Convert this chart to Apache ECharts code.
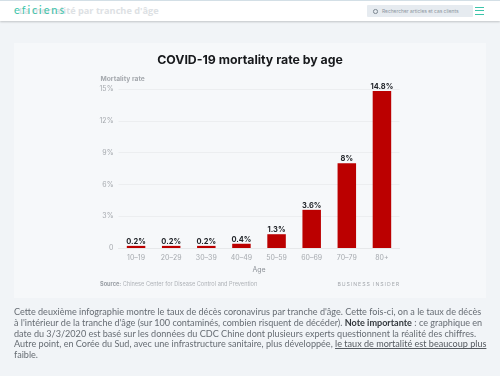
<!DOCTYPE html>
<html>
<head>
<meta charset="utf-8">
<script src="https://cdn.jsdelivr.net/npm/echarts@6/dist/echarts.min.js"></script>
<style>
  html, body { margin: 0; padding: 0; width: 500px; height: 376px; overflow: hidden; background: #f1f4f7; }
  #topbar { position: absolute; left: 0; top: 0; width: 500px; height: 21px; background: #fff; border-top: 1px solid #d3dfe6; box-sizing: border-box; box-shadow: 0 1px 2px rgba(0,0,0,.2); }
  #pagetitle { position: absolute; left: 19px; top: 3px; font: bold 9.2px "Open Sans", sans-serif; color: #dde1e4; white-space: nowrap; }
  #logo { position: absolute; left: 14px; top: 2px; font: 11px "Lato", sans-serif; letter-spacing: 1.9px; color: #3cc4aa; white-space: nowrap; }
  #search { position: absolute; left: 367px; top: 4px; width: 106px; height: 12px; background: #e6ebf0; border-radius: 1px; font: 4.9px/12px "Inter", sans-serif; color: #8d96a0; text-indent: 15px; white-space: nowrap; }
  #search i { position: absolute; left: 6px; top: 4px; width: 2.5px; height: 2.5px; border: 1px solid #7d8791; border-radius: 50%; }
  #burger { position: absolute; left: 475px; top: 6px; width: 9px; height: 6px; border-top: 1px solid #3cc4aa; border-bottom: 1px solid #3cc4aa; }
  #burger:after { content: ""; position: absolute; left: 0; top: 2px; width: 9px; height: 1px; background: #3cc4aa; }
  #card { position: absolute; left: 14px; top: 43px; width: 472px; height: 255px; background: #f6f8fa; }
  #chart { position: absolute; left: 0; top: 0; width: 500px; height: 376px; }
  #brand { position: absolute; right: 100px; top: 281px; font: 5.2px/6px "Inter", sans-serif; letter-spacing: 0.95px; color: #a5a9ae; white-space: nowrap; }
  #note { position: absolute; left: 14px; top: 307px; width: 472px; font: 9.08px/10.75px "Lato", sans-serif; color: #666c73; }
  #note b { color: #33383d; }
  #note u { text-underline-offset: 1px; color: #555a60; }
  #note div { white-space: nowrap; }
</style>
</head>
<body>
<div id="card"></div>
<div id="topbar">
  <div id="pagetitle">La mortalité par tranche d'âge</div>
  <div id="logo">eficiens</div>
  <div id="search"><i></i>Rechercher articles et cas clients</div>
  <div id="burger"></div>
</div>
<div id="chart"></div>
<div id="brand">BUSINESS INSIDER</div>
<div id="note">
  <div>Cette deuxième infographie montre le taux de décès coronavirus par tranche d'âge. Cette fois-ci, on a le taux de décès</div>
  <div>à l'intérieur de la tranche d'âge (sur 100 contaminés, combien risquent de décéder). <b>Note importante</b> : ce graphique en</div>
  <div>date du 3/3/2020 est basé sur les données du CDC Chine dont plusieurs experts questionnent la réalité des chiffres.</div>
  <div>Autre point, en Corée du Sud, avec une infrastructure sanitaire, plus développée, <u>le taux de mortalité est beaucoup plus</u></div>
  <div>faible.</div>
</div>
<script>
const ageGroups = ['10–19', '20–29', '30–39', '40–49', '50–59', '60–69', '70–79', '80+']
const mortality = [0.2, 0.2, 0.2, 0.4, 1.3, 3.6, 8, 14.8]

const myChart = echarts.init(document.getElementById('chart'))
myChart.setOption({
  animation: false,
  textStyle: { fontFamily: 'Inter' },
  title: {
    text: 'COVID-19 mortality rate by age',
    left: 'center',
    top: 49,
    textStyle: { fontFamily: 'Inter', fontSize: 12.3, fontWeight: 'bold', color: '#17191c' }
  },
  grid: { left: 118.5, right: 100.5, top: 89, bottom: 128 },
  xAxis: {
    type: 'category',
    data: ageGroups,
    name: 'Age',
    nameLocation: 'middle',
    nameGap: 18,
    nameTextStyle: { fontSize: 7, color: '#8d9298' },
    axisLine: { lineStyle: { color: '#e6e8ea', width: 1 } },
    axisTick: { show: false },
    axisLabel: { fontSize: 7, color: '#a5a9ae', margin: 6 }
  },
  yAxis: {
    type: 'value',
    min: 0,
    max: 15,
    interval: 3,
    name: 'Mortality rate',
    nameLocation: 'end',
    nameGap: 7,
    nameTextStyle: { fontSize: 6.7, fontWeight: 'bold', color: '#a5a9ae', align: 'left', padding: [0, 0, 0, -18] },
    axisLabel: {
      fontSize: 7,
      color: '#a5a9ae',
      margin: 5,
      formatter: function (v) { return v === 0 ? '0' : v + '%' }
    },
    splitLine: { lineStyle: { color: '#eceef0', width: 1 } }
  },
  series: [
    {
      type: 'bar',
      data: mortality,
      barWidth: 18.5,
      itemStyle: { color: '#bb0000' },
      label: {
        show: true,
        position: 'top',
        distance: 0,
        fontSize: 7.5,
        fontWeight: 'bold',
        color: '#22252a',
        formatter: '{c}%'
      }
    }
  ],
  graphic: [
    {
      type: 'text',
      left: 100,
      top: 281,
      style: {
        text: '{b|Source:} Chinese Center for Disease Control and Prevention',
        rich: {
          b: { fontFamily: 'Inter', fontSize: 5.6, fontWeight: 'bold', fill: '#9ba0a6' }
        },
        fontFamily: 'Inter',
        fontSize: 5.6,
        fill: '#aeb2b7'
      }
    }
  ]
})
</script>
</body>
</html>
